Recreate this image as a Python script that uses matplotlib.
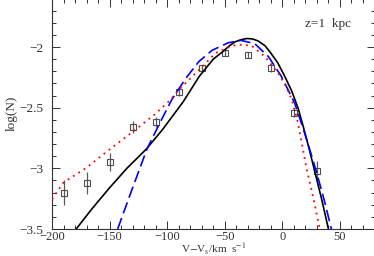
import matplotlib
matplotlib.use("Agg")
import matplotlib.pyplot as plt
from matplotlib.ticker import MultipleLocator, FuncFormatter

# observed counts (squares with error bars)
obs_v = [-190, -170, -150, -130, -110, -90, -70, -50, -30, -10, 10, 30]
obs_logn = [-3.20, -3.12, -2.95, -2.66, -2.62, -2.37, -2.175, -2.05, -2.065, -2.175, -2.54, -3.02]
obs_err = [0.10, 0.09, 0.075, 0.05, 0.04, 0.035, 0.03, 0.025, 0.025, 0.03, 0.04, 0.08]

# model curves
black_v = [-179, -165, -150, -135, -118, -104, -86, -72, -60, -52, -46, -41, -36, -31, -26, -21, -15,
           -10, -4, 2, 8, 13.5, 18, 23, 28, 34, 40]
black_logn = [-3.50, -3.33, -3.16, -3.00, -2.84, -2.68, -2.45, -2.24, -2.10, -2.04, -1.99, -1.957, -1.94,
              -1.93, -1.933, -1.95, -1.99, -2.05, -2.13, -2.24, -2.36, -2.50, -2.65, -2.83, -3.02, -3.25,
              -3.50]

blue_v = [-143, -130, -117.5, -105, -96, -84, -72.5, -61, -47, -36, -24, -12, -1, 10.6, 17, 23, 29.3,
          36, 42.6]
blue_logn = [-3.50, -3.16, -2.84, -2.60, -2.434, -2.26, -2.12, -2.027, -1.965, -1.945, -1.972, -2.08,
             -2.24, -2.46, -2.64, -2.82, -3.02, -3.25, -3.50]

red_v = [-200, -190, -170, -150, -131, -111, -97, -89.7, -72.5, -58, -44, -35, -26.6, -15, -3.3, 3,
         8, 13, 17, 21, 27, 32.5]
red_logn = [-3.254, -3.117, -2.994, -2.844, -2.707, -2.557, -2.434, -2.35, -2.19, -2.05, -1.99, -1.98,
            -1.99, -2.08, -2.22, -2.32, -2.43, -2.60, -2.80, -3.00, -3.25, -3.50]

plt.rcParams["font.family"] = ["Liberation Serif", "DejaVu Serif"]
plt.rcParams["mathtext.fontset"] = "stix"

fig = plt.figure(figsize=(3.74, 2.56), dpi=100)
ax = fig.add_axes([52 / 374, 27 / 256, 322.5 / 374, 230.5 / 256])

ax.errorbar(obs_v, obs_logn, yerr=obs_err, fmt="s", mfc="none", mec="0.3", ms=4.5, mew=0.8,
            ecolor="0.35", elinewidth=0.9, capsize=0, zorder=2)
ax.plot(black_v, black_logn, color="black", lw=1.2, zorder=3)
ax.plot(blue_v, blue_logn, color="blue", lw=1.2, dashes=(7, 3), zorder=3)
ax.plot(red_v, red_logn, color="red", lw=1.3, dashes=(1, 2.5), zorder=3)

ax.set_xlim(-200, 80)
ax.set_ylim(-3.5, -1.6)
ax.xaxis.set_major_locator(MultipleLocator(50))
ax.xaxis.set_minor_locator(MultipleLocator(10))
ax.yaxis.set_major_locator(MultipleLocator(0.5))
ax.yaxis.set_minor_locator(MultipleLocator(0.1))
fmt = FuncFormatter(lambda v, p: f"{v:g}".replace("-", "\u2212"))
ax.xaxis.set_major_formatter(fmt)
ax.yaxis.set_major_formatter(fmt)
ax.tick_params(which="both", direction="in", top=True, right=True, labelsize=9.5, colors="0.2")
ax.tick_params(which="major", length=6, width=0.7)
ax.tick_params(which="minor", length=3, width=0.7)
ax.tick_params(axis="x", pad=1.5, labelsize=9)
ax.tick_params(axis="y", pad=6)
for s in ax.spines.values():
    s.set_linewidth(0.8)
    s.set_color("0.2")

ax.set_xlabel(r"V$-$V$_{\rm s}$/km  s$^{-1}$", fontsize=8, labelpad=-1, color="0.2")
ax.set_ylabel("log(N)", fontsize=9.5, labelpad=1, color="0.2")
ax.text(20, -1.81, "z=1  kpc", fontsize=9.5, va="center", ha="left", color="0.2")

fig.savefig("out.png", dpi=100)
